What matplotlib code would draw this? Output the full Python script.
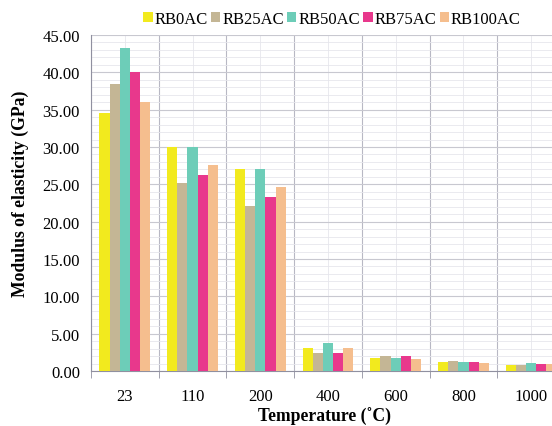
import matplotlib
matplotlib.use("Agg")
import matplotlib.pyplot as plt
import numpy as np
from matplotlib.ticker import MultipleLocator, FixedLocator

categories = ["23", "110", "200", "400", "600", "800", "1000"]
series_names = ["RB0AC", "RB25AC", "RB50AC", "RB75AC", "RB100AC"]
rb0 = [34.6, 30.0, 27.0, 3.1, 1.7, 1.25, 0.8]
rb25 = [38.5, 25.2, 22.1, 2.4, 2.05, 1.3, 0.8]
rb50 = [43.3, 30.0, 27.1, 3.8, 1.8, 1.2, 1.05]
rb75 = [40.0, 26.3, 23.3, 2.4, 2.05, 1.2, 0.95]
rb100 = [36.0, 27.6, 24.6, 3.05, 1.6, 1.1, 0.9]
series = [rb0, rb25, rb50, rb75, rb100]
colors = ["#F2EA1E", "#C4B695", "#6DCDB8", "#E8388C", "#F5BE8E"]

plt.rcParams['font.family'] = ['Liberation Serif', 'DejaVu Serif']

W, H = 552, 427
fig = plt.figure(figsize=(W / 100, H / 100), dpi=100)
left_px, right_px, top_px, bot_px = 91, 565, 36, 372
ax = fig.add_axes([left_px / W, 1 - bot_px / H, (right_px - left_px) / W, (bot_px - top_px) / H])

x = np.arange(len(categories))
bw = 0.15
for i, (vals, c, name) in enumerate(zip(series, colors, series_names)):
    ax.bar(x + (i - 2) * bw, vals, width=bw, color=c, label=name, zorder=3)

ax.set_xlim(-0.5, len(categories) - 0.5)
ax.set_ylim(0, 45)
ax.yaxis.set_minor_locator(MultipleLocator(1))
ax.set_yticks(np.arange(0, 46, 5))
ax.set_yticklabels([f"{v:.2f}" for v in np.arange(0, 46, 5)], fontsize=12)
ax.set_xticks(x)
ax.set_xticklabels(categories, fontsize=12)
ax.xaxis.set_minor_locator(FixedLocator(np.arange(-0.5, len(categories), 1)))

ax.grid(True, which='major', axis='y', color='#C8C8D0', linewidth=0.8, zorder=0)
ax.grid(True, which='minor', axis='y', color='#E6E6EC', linewidth=0.6, zorder=0)
ax.grid(True, which='minor', axis='x', color='#B8B8C4', linewidth=0.8, zorder=0)
ax.grid(True, which='major', axis='x', color='#E6E6EC', linewidth=0.6, zorder=0)

ax.tick_params(axis='x', which='major', length=0, pad=12)
ax.tick_params(axis='x', which='minor', length=5, color='#9090A0', direction='out')
ax.tick_params(axis='y', which='both', length=0, pad=8)
ax.tick_params(axis='y', which='minor', length=0)

for s in ['top', 'right']:
    ax.spines[s].set_visible(False)
ax.spines['left'].set_color('#9090A0')
ax.spines['bottom'].set_color('#9090A0')

ax.set_xlabel("Temperature (˚C)", fontsize=12.7, fontweight='bold')
ax.xaxis.set_label_coords((325 - left_px) / (right_px - left_px), -(417 - bot_px) / (bot_px - top_px))
ax.xaxis.label.set_va('center')
ax.set_ylabel("Modulus of elasticity (GPa)", fontsize=12.7, fontweight='bold')
ax.yaxis.set_label_coords(-(left_px - 20) / (right_px - left_px), (bot_px - 194) / (bot_px - top_px))
ax.yaxis.label.set_va('center')

fig.legend(loc='center', bbox_to_anchor=(332 / W, 1 - 20 / H), ncol=5, frameon=False,
           fontsize=12, handlelength=0.55, handleheight=0.55, handletextpad=0.12,
           columnspacing=0.2)

fig.savefig("out.png", dpi=100)
